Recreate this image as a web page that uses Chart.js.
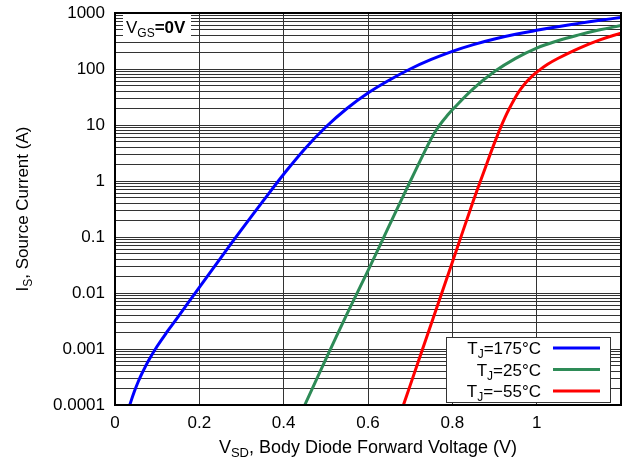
<!DOCTYPE html>
<html><head><meta charset="utf-8">
<script src="https://cdn.jsdelivr.net/npm/chart.js@4"></script>
<style>html,body{margin:0;padding:0;background:#fff}#wrap{width:626px;height:464px;position:relative}</style>
</head><body><div id="wrap"><canvas id="c" width="626" height="464"></canvas></div>
<script>
// ---- data ----
const v175 = [0.035, 0.045, 0.055, 0.065, 0.08, 0.1, 0.125, 0.15, 0.2, 0.25, 0.3, 0.35, 0.4, 0.45, 0.5, 0.55, 0.6, 0.65, 0.7, 0.75, 0.8, 0.85, 0.9, 0.95, 1.0, 1.05, 1.1, 1.15, 1.2];
const i175 = [0.0001, 0.000167, 0.00026, 0.00038, 0.00063, 0.00112, 0.0021, 0.0038, 0.0126, 0.0417, 0.135, 0.427, 1.32, 3.74, 9.2, 19.7, 37.2, 63, 100, 148, 207, 273, 343, 416, 490, 569, 653, 741, 832];
const v25 = [0.45, 0.5, 0.55, 0.6, 0.65, 0.7, 0.725, 0.75, 0.7625, 0.775, 0.7875, 0.8, 0.85, 0.9, 0.95, 1.0, 1.05, 1.1, 1.15, 1.2];
const i25 = [0.0001, 0.00066, 0.0042, 0.025, 0.158, 0.98, 2.4, 5.75, 8.24, 11.2, 14.6, 18.7, 44.7, 90, 155, 237, 320, 407, 501, 596];
const vM55 = [0.684, 0.7, 0.75, 0.8, 0.85, 0.875, 0.9, 0.925, 0.95, 0.9625, 0.975, 0.9875, 1.0, 1.025, 1.05, 1.1, 1.15, 1.2];
const iM55 = [0.0001, 0.000224, 0.00282, 0.0355, 0.447, 1.48, 4.79, 13.7, 31.6, 44, 58, 72.6, 87.5, 120, 154, 234, 331, 437];
const seriesTemps = ['175°C', '25°C', '\u221255°C'];
const seriesColors = ['#0000ff', '#2e8b57', '#ff0000'];
const xTickValues = [0, 0.2, 0.4, 0.6, 0.8, 1, 1.2];
const xTickLabels = ['0', '0.2', '0.4', '0.6', '0.8', '1', ''];
const yDecades = [0.0001, 0.001, 0.01, 0.1, 1, 10, 100, 1000];
const yDecadeLabels = ['0.0001', '0.001', '0.01', '0.1', '1', '10', '100', '1000'];

const FONT = '"Liberation Sans", Arial, Helvetica, sans-serif';
const GRID = '#333333';

function pts(xs, ys) { return xs.map((x, i) => ({x: x, y: ys[i]})); }

function drawParts(ctx, parts, x, y, align) {
  let w = 0;
  parts.forEach(p => { ctx.font = p[1]; w += ctx.measureText(p[0]).width; });
  let cx = align === 'right' ? x - w : (align === 'center' ? x - w / 2 : x);
  ctx.textAlign = 'left';
  ctx.textBaseline = 'alphabetic';
  parts.forEach(p => { ctx.font = p[1]; ctx.fillText(p[0], cx, y + p[2]); cx += ctx.measureText(p[0]).width; });
}

const F17 = '17px ' + FONT, F12 = '12px ' + FONT, B17 = 'bold 17px ' + FONT;
const F18 = '18px ' + FONT, F13 = '13px ' + FONT;

const decor = {
  id: 'decor',
  afterDatasetsDraw(chart) {
    const ctx = chart.ctx, a = chart.chartArea;
    ctx.save();
    // frame
    ctx.strokeStyle = '#000'; ctx.lineWidth = 2;
    ctx.strokeRect(a.left, a.top, a.right - a.left, a.bottom - a.top);
    // V_GS label box
    ctx.fillStyle = '#fff';
    ctx.fillRect(a.left + 8, a.top + 2, 68, 22);
    ctx.fillStyle = '#000';
    drawParts(ctx, [['V', F17, 0], ['GS', F12, 4], ['=0V', B17, 0]], a.left + 11, a.top + 20, 'left');
    // legend box
    const lx = 446, ly = 337, lw = 164, lh = 65;
    ctx.fillStyle = '#fff';
    ctx.fillRect(lx, ly, lw, lh);
    ctx.strokeStyle = '#333'; ctx.lineWidth = 1;
    ctx.strokeRect(lx + 0.5, ly + 0.5, lw, lh);
    const rows = [348, 369.5, 391];
    seriesTemps.forEach((t, i) => {
      ctx.fillStyle = '#000';
      drawParts(ctx, [['T', F17, 0], ['J', F12, 4], ['=' + t, F17, 0]], 541, rows[i] + 6, 'right');
      ctx.strokeStyle = seriesColors[i]; ctx.lineWidth = 3;
      ctx.beginPath(); ctx.moveTo(553, rows[i]); ctx.lineTo(600, rows[i]); ctx.stroke();
    });
    ctx.restore();
  },
  afterDraw(chart) {
    const ctx = chart.ctx, a = chart.chartArea;
    ctx.save();
    ctx.fillStyle = '#000';
    drawParts(ctx, [['V', F18, 0], ['SD', F13, 4], [', Body Diode Forward Voltage (V)', F18, 0]], (a.left + a.right) / 2, 453, 'center');
    ctx.translate(28, (a.top + a.bottom) / 2);
    ctx.rotate(-Math.PI / 2);
    drawParts(ctx, [['I', F17, 0], ['S', F12, 4], [', Source Current (A)', F17, 0]], 0, 0, 'center');
    ctx.restore();
  }
};

new Chart(document.getElementById('c'), {
  type: 'line',
  data: {
    datasets: [
      {data: pts(v175, i175), borderColor: seriesColors[0]},
      {data: pts(v25, i25), borderColor: seriesColors[1]},
      {data: pts(vM55, iM55), borderColor: seriesColors[2]}
    ].map(d => Object.assign(d, {borderWidth: 3, pointRadius: 0, fill: false, tension: 0.4}))
  },
  options: {
    responsive: false,
    animation: false,
    devicePixelRatio: 1,
    layout: {padding: {top: 13, right: 5, left: 0, bottom: 0}},
    plugins: {legend: {display: false}, tooltip: {enabled: false}},
    scales: {
      x: {
        type: 'linear', min: 0, max: 1.2,
        afterBuildTicks: s => { s.ticks = xTickValues.map(v => ({value: v})); },
        afterFit: s => { s.height = 59; s.paddingLeft = 0; s.paddingRight = 0; },
        ticks: {autoSkip: false, maxRotation: 0, padding: 8, color: '#000', font: {family: FONT, size: 17},
          callback: (v, i) => xTickLabels[i]},
        grid: {color: GRID, lineWidth: 1, drawTicks: false},
        border: {display: false}
      },
      y: {
        type: 'logarithmic', min: 0.0001, max: 1000,
        afterBuildTicks: s => {
          const t = [];
          for (let k = 0; k < yDecades.length - 1; k++) {
            for (let m = 1; m <= 9; m++) t.push({value: yDecades[k] * m});
          }
          t.push({value: yDecades[yDecades.length - 1]});
          s.ticks = t;
        },
        afterFit: s => { s.width = 115; s.paddingTop = 0; s.paddingBottom = 0; },
        ticks: {autoSkip: false, padding: 10, color: '#000', font: {family: FONT, size: 17},
          callback: v => {
            const k = yDecades.findIndex(d => Math.abs(Math.log10(v) - Math.log10(d)) < 1e-6);
            return k >= 0 ? yDecadeLabels[k] : '';
          }},
        grid: {color: GRID, lineWidth: 1, drawTicks: false},
        border: {display: false}
      }
    }
  },
  plugins: [decor]
});
</script>
</body></html>
